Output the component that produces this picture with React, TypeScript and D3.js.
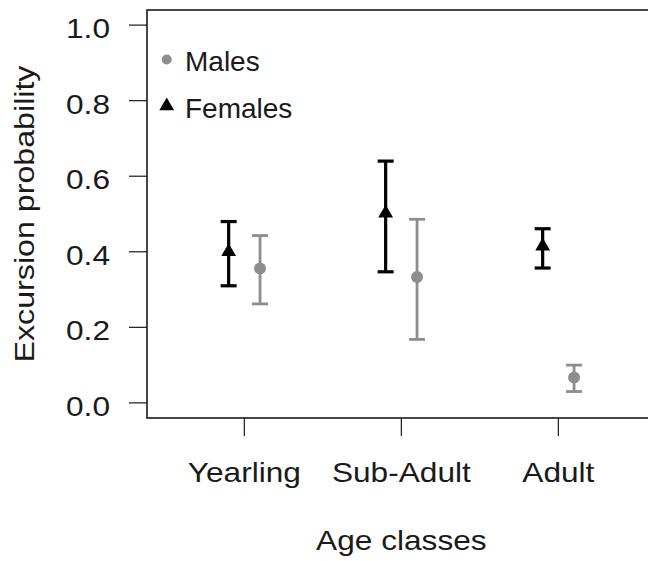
import { useEffect, useRef } from "react";
import * as d3 from "d3";

const categories = ["Yearling", "Sub-Adult", "Adult"];
const femaleEst = [0.4, 0.502, 0.415];
const femaleLo = [0.31, 0.347, 0.357];
const femaleHi = [0.48, 0.64, 0.461];
const maleEst = [0.356, 0.333, 0.067];
const maleLo = [0.262, 0.168, 0.03];
const maleHi = [0.443, 0.486, 0.1];
const yTicks = [0, 0.2, 0.4, 0.6, 0.8, 1.0];

const WIDTH = 648;
const HEIGHT = 561;
const PLOT = { left: 147, right: 655.7, top: 10, bottom: 418 };
const FONT = "'Liberation Sans', Arial, sans-serif";
const GREY = "#8e8e8e";
const INK = "#1a1a1a";
// axis text in the original is a little wider than plain Arial
const STRETCH = 1.13;

interface Point {
  x: number;
  est: number;
  lo: number;
  hi: number;
}

export default function App() {
  const svgRef = useRef<SVGSVGElement>(null);

  useEffect(() => {
    if (!svgRef.current) return;
    const svg = d3.select(svgRef.current);
    svg.selectAll("*").remove();

    svg.append("rect").attr("width", WIDTH).attr("height", HEIGHT).attr("fill", "#fff");

    const x = d3.scaleLinear().domain([0.38, 3.62]).range([PLOT.left, PLOT.right]);
    const y = d3.scaleLinear().domain([-0.04, 1.04]).range([PLOT.bottom, PLOT.top]);

    // Box
    svg
      .append("rect")
      .attr("x", PLOT.left)
      .attr("y", PLOT.top)
      .attr("width", PLOT.right - PLOT.left)
      .attr("height", PLOT.bottom - PLOT.top)
      .attr("fill", "none")
      .attr("stroke", INK)
      .attr("stroke-width", 1.6);

    // Y axis
    const yAxis = svg.append("g");
    yAxis
      .selectAll("line")
      .data(yTicks)
      .join("line")
      .attr("x1", PLOT.left - 18)
      .attr("x2", PLOT.left)
      .attr("y1", (d) => y(d))
      .attr("y2", (d) => y(d))
      .attr("stroke", INK)
      .attr("stroke-width", 1.2);
    yAxis
      .selectAll("text")
      .data(yTicks)
      .join("text")
      .attr("transform", (d) => `translate(110,${y(d) + 13}) scale(${STRETCH},1)`)
      .attr("text-anchor", "end")
      .attr("font-family", FONT)
      .attr("font-size", 28)
      .attr("fill", INK)
      .text((d) => d3.format(".1f")(d));

    // X axis
    const xAxis = svg.append("g");
    xAxis
      .selectAll("line")
      .data(categories)
      .join("line")
      .attr("x1", (_, i) => x(i + 1))
      .attr("x2", (_, i) => x(i + 1))
      .attr("y1", PLOT.bottom)
      .attr("y2", PLOT.bottom + 18)
      .attr("stroke", INK)
      .attr("stroke-width", 1.2);
    xAxis
      .selectAll("text")
      .data(categories)
      .join("text")
      .attr("transform", (_, i) => `translate(${x(i + 1)},482) scale(${STRETCH},1)`)
      .attr("text-anchor", "middle")
      .attr("font-family", FONT)
      .attr("font-size", 28)
      .attr("fill", INK)
      .text((d) => d);

    // Axis titles
    svg
      .append("text")
      .attr("transform", `translate(${(PLOT.left + PLOT.right) / 2},550) scale(${STRETCH},1)`)
      .attr("text-anchor", "middle")
      .attr("font-family", FONT)
      .attr("font-size", 28)
      .attr("fill", INK)
      .text("Age classes");

    svg
      .append("text")
      .attr("transform", `translate(34,214) rotate(-90) scale(1.15,1)`)
      .attr("text-anchor", "middle")
      .attr("font-family", FONT)
      .attr("font-size", 28)
      .attr("fill", INK)
      .text("Excursion probability");

    const females: Point[] = categories.map((_, i) => ({
      x: i + 1 - 0.1,
      est: femaleEst[i],
      lo: femaleLo[i],
      hi: femaleHi[i],
    }));
    const males: Point[] = categories.map((_, i) => ({
      x: i + 1 + 0.1,
      est: maleEst[i],
      lo: maleLo[i],
      hi: maleHi[i],
    }));

    const drawBars = (pts: Point[], color: string, w: number) => {
      const g = svg.append("g").attr("stroke", color).attr("stroke-width", w);
      g.selectAll(".v")
        .data(pts)
        .join("line")
        .attr("x1", (d) => x(d.x))
        .attr("x2", (d) => x(d.x))
        .attr("y1", (d) => y(d.lo))
        .attr("y2", (d) => y(d.hi));
      (["lo", "hi"] as const).forEach((k) => {
        g.selectAll(`.cap-${k}`)
          .data(pts)
          .join("line")
          .attr("class", `cap-${k}`)
          .attr("x1", (d) => x(d.x) - 8)
          .attr("x2", (d) => x(d.x) + 8)
          .attr("y1", (d) => y(d[k]))
          .attr("y2", (d) => y(d[k]));
      });
    };

    drawBars(females, "#000", 3.2);
    drawBars(males, GREY, 2.8);

    const tri = d3.symbol().type(d3.symbolTriangle).size(95);

    svg
      .append("g")
      .selectAll("path")
      .data(females)
      .join("path")
      .attr("d", tri)
      .attr("transform", (d) => `translate(${x(d.x)},${y(d.est)})`)
      .attr("fill", "#000");

    svg
      .append("g")
      .selectAll("circle")
      .data(males)
      .join("circle")
      .attr("cx", (d) => x(d.x))
      .attr("cy", (d) => y(d.est))
      .attr("r", 6)
      .attr("fill", GREY);

    // Legend
    const legend = svg.append("g");
    legend
      .append("circle")
      .attr("cx", 166.7)
      .attr("cy", 59.5)
      .attr("r", 5)
      .attr("fill", GREY);
    legend
      .append("text")
      .attr("x", 185)
      .attr("y", 70.5)
      .attr("font-family", FONT)
      .attr("font-size", 28)
      .attr("fill", INK)
      .text("Males");
    legend
      .append("path")
      .attr("d", tri)
      .attr("transform", "translate(166.7,106)")
      .attr("fill", "#000");
    legend
      .append("text")
      .attr("x", 185)
      .attr("y", 118)
      .attr("font-family", FONT)
      .attr("font-size", 28)
      .attr("fill", INK)
      .text("Females");
  }, []);

  return (
    <svg
      ref={svgRef}
      width={WIDTH}
      height={HEIGHT}
      style={{ position: "absolute", left: 0, top: 0, display: "block" }}
    />
  );
}
